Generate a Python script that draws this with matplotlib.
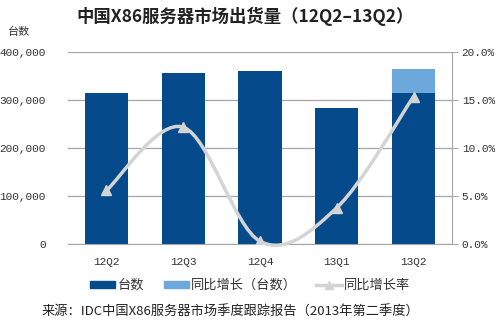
import matplotlib.pyplot as plt
import numpy as np
from matplotlib.path import Path
from matplotlib.patches import PathPatch
from matplotlib.lines import Line2D
from matplotlib.patches import Patch

plt.rcParams['font.family'] = ['Noto Sans CJK SC', 'DejaVu Sans']

# data
quarters = ['12Q2', '12Q3', '12Q4', '13Q1', '13Q2']
units = [316000, 357000, 361000, 285000, 316000]
yoy_units = [0, 0, 0, 0, 49000]
yoy_rate = [5.6, 12.2, 0.3, 3.8, 15.4]

dark = '#054B8C'
light = '#6CA8DB'
gray_line = '#D4D4D4'
grid_c = '#A6A6A6'

fig = plt.figure(figsize=(5, 3.34), dpi=100)
ax = fig.add_axes([0.136, 0.269, 0.768, 0.574])
x = np.arange(len(quarters))

ax.set_axisbelow(True)
ax.bar(x, units, 0.56, color=dark, zorder=2)
ax.bar(x, yoy_units, 0.56, bottom=units, color=light, zorder=2)
ax.set_xlim(-0.5, 4.5)
ax.set_ylim(0, 400000)
ax.set_yticks(np.arange(0, 400001, 100000))
ax.set_yticklabels(['0', '100,000', '200,000', '300,000', '400,000'],
                   family='Liberation Mono', fontsize=8, color='#333333')
ax.yaxis.grid(True, color=grid_c, linewidth=0.9)
ax.set_xticks(x)
ax.set_xticklabels(quarters, family='Liberation Mono', fontsize=8, color='#333333')
ax.tick_params(axis='x', length=0, pad=9)
ax.tick_params(axis='y', length=0, pad=16)
for s in ['left', 'right', 'top']:
    ax.spines[s].set_visible(False)
ax.spines['bottom'].set_color(grid_c)

ax2 = ax.twinx()
ax2.set_ylim(0, 20)
ax2.set_yticks(np.arange(0, 20.1, 5))
ax2.set_yticklabels(['%.1f%%' % v for v in np.arange(0, 20.1, 5)],
                    family='Liberation Mono', fontsize=8, color='#333333')
ax2.tick_params(axis='y', length=4, color=grid_c, pad=3)
for s in ['left', 'top', 'bottom']:
    ax2.spines[s].set_visible(False)
ax2.spines['right'].set_color(grid_c)

# smoothed line (Catmull-Rom style bezier through the points)
pts = np.column_stack([x, yoy_rate]).astype(float)
verts = [pts[0]]
codes = [Path.MOVETO]
for i in range(len(pts) - 1):
    p0 = pts[max(i - 1, 0)]
    p1 = pts[i]
    p2 = pts[i + 1]
    p3 = pts[min(i + 2, len(pts) - 1)]
    c1 = p1 + (p2 - p0) / 6
    c2 = p2 - (p3 - p1) / 6
    verts += [c1, c2, p2]
    codes += [Path.CURVE4] * 3
ax2.add_patch(PathPatch(Path(verts, codes), facecolor='none', edgecolor=gray_line,
                        linewidth=2.5, zorder=3, clip_on=False))
ax2.plot(x, yoy_rate, linestyle='none', marker='^', markersize=7,
         color=gray_line, zorder=4)

fig.text(0.49, 0.95, '中国X86服务器市场出货量（12Q2–13Q2）', ha='center', va='center',
         fontsize=12.5, fontweight='bold', color='#222222')
fig.text(0.016, 0.905, '台数', ha='left', va='center', fontsize=8, color='#333333')

handles = [Patch(color=dark), Patch(color=light),
           Line2D([0], [0], color=gray_line, linewidth=2.5, marker='^', markersize=6)]
fig.legend(handles, ['台数', '同比增长（台数）', '同比增长率'], loc='center',
           bbox_to_anchor=(0.5, 0.145), ncol=3, frameon=False, fontsize=9.5,
           handlelength=1.9, handleheight=0.4, handletextpad=0.15, columnspacing=1.5,
           labelcolor='#333333', borderpad=0)
fig.text(0.083, 0.065, '来源：IDC中国X86服务器市场季度跟踪报告（2013年第二季度）',
         ha='left', va='center', fontsize=9.5, color='#222222')

fig.savefig('out.png', dpi=100)
